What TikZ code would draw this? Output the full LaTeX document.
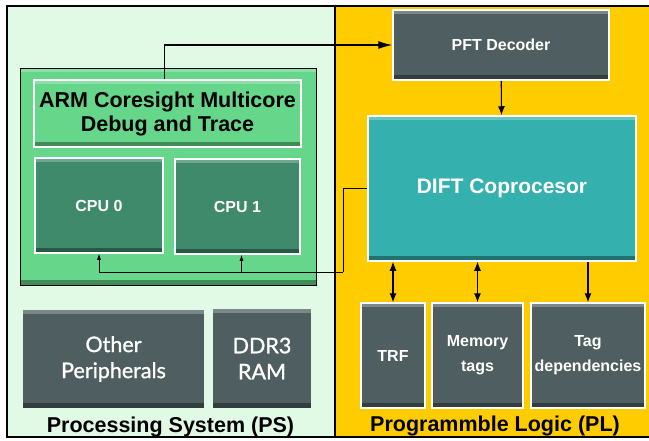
\documentclass[tikz,border=0pt]{standalone}
\usepackage{fontspec}
\setmainfont{Liberation Sans}
\newfontfamily\avenir[FakeBold=1.2]{Lato}
\usetikzlibrary{arrows.meta}

\definecolor{menta}{HTML}{E0FAE6}
\definecolor{amarillo}{HTML}{FFCC00}
\definecolor{verdearm}{HTML}{66D68A}
\definecolor{verdecpu}{HTML}{3E8A6A}
\definecolor{pizarra}{HTML}{4F5F61}
\definecolor{turquesa}{HTML}{34B0AF}

\tikzstyle{sombra} = [
  path picture={
    \fill[white,opacity=0.25] (path picture bounding box.north west) rectangle ([yshift=-4pt]path picture bounding box.north east);
    \fill[black,opacity=0.35] (path picture bounding box.south west) rectangle ([yshift=5pt]path picture bounding box.south east);
  }
]
\tikzstyle{region} = [
  rectangle,
  draw=black,
  line width=1.2pt,
  inner sep=0pt
]
\tikzstyle{bloque} = [
  rectangle,
  draw=white,
  line width=1.5pt,
  inner sep=1pt,
  text=white,
  align=center,
  font=\bfseries\fontsize{16}{25}\selectfont,
  sombra
]
\tikzstyle{periferico} = [
  rectangle,
  inner sep=0pt,
  fill=pizarra,
  text=white,
  align=center,
  font=\avenir\fontsize{21.5}{26}\selectfont,
  sombra
]
\tikzstyle{titulo} = [anchor=base, font=\bfseries\fontsize{21.5}{24}\selectfont]
\tikzstyle{arrow} = [line width=1.1pt,->,>={Latex[length=9pt,width=7pt]}]
\tikzstyle{arrowlarga} = [line width=1.1pt,->,>={Latex[length=14pt,width=8pt]}]
\tikzstyle{arrowfina} = [line width=0.8pt,->,>={Latex[length=6pt,width=4pt]}]

\begin{document}
\begin{tikzpicture}[x=1pt, y=-1pt]
    \useasboundingbox (0,0) rectangle (649,440);

    % Regiones PS y PL
    \node (ps) [region, fill=menta, minimum width=328, minimum height=431] at (171,221.5) {};
    \node (pl) [region, fill=amarillo, minimum width=318, minimum height=431] at (494,221.5) {};
    \node (pstitle) [titulo] at (170.5,432) {Processing System (PS)};
    \node (pltitle) [titulo] at (495,431) {Programmble Logic (PL)};

    % Bloque ARM con los dos CPU
    \node (armbox) [rectangle, draw=black, line width=1pt, fill=verdearm, minimum width=296, minimum height=217, sombra] at (168,176.5) {};
    \node (arm) [bloque, fill=verdearm, text=black, minimum width=267, minimum height=67, font=\bfseries\fontsize{21.5}{24}\selectfont] at (167.5,113.5) {ARM Coresight Multicore\\Debug and Trace};
    \node (cpu0) [bloque, fill=verdecpu, minimum width=128, minimum height=95] at (99,205.5) {CPU 0};
    \node (cpu1) [bloque, fill=verdecpu, minimum width=125, minimum height=95] at (237.5,206.5) {CPU 1};

    % Perifericos y memoria
    \node (periph) [periferico, minimum width=181, minimum height=98] at (113.5,359) {Other\\Peripherals};
    \node (ddr) [periferico, minimum width=98, minimum height=99] at (262,358.5) {DDR3\\RAM};

    % Logica programable
    \node (pft) [bloque, fill=pizarra, minimum width=216, minimum height=70] at (501,45) {PFT Decoder};
    \node (dift) [bloque, fill=turquesa, minimum width=268, minimum height=145, font=\bfseries\fontsize{21}{25}\selectfont] at (502,188.5) {DIFT Coprocesor};
    \node (trf) [bloque, fill=pizarra, minimum width=64, minimum height=105] at (393,355.5) {TRF};
    \node (memtags) [bloque, fill=pizarra, minimum width=91, minimum height=105] at (477.5,355.5) {Memory\\tags};
    \node (tagdep) [bloque, fill=pizarra, minimum width=114, minimum height=105, inner sep=0pt] at (588,355.5) {Tag\\dependencies};

    % Flechas
    \draw [arrowlarga] ([xshift=-3pt]arm.north) |- (pft.west);
    \draw [arrow] (pft) -- (dift);

    \coordinate (giro) at (343,272);
    \draw [line width=0.8pt] (dift.west) -| (giro);
    \draw [arrowfina] (giro) -| (cpu0.south);
    \draw [arrowfina] (giro) -| ([xshift=4pt]cpu1.south);

    \draw [arrow, <->] (dift.south -| trf.north) -- (trf.north);
    \draw [arrow, <->] (dift.south -| memtags.north) -- (memtags.north);
    \draw [arrow] (dift.south -| tagdep.north) -- (tagdep.north);

\end{tikzpicture}
\end{document}
